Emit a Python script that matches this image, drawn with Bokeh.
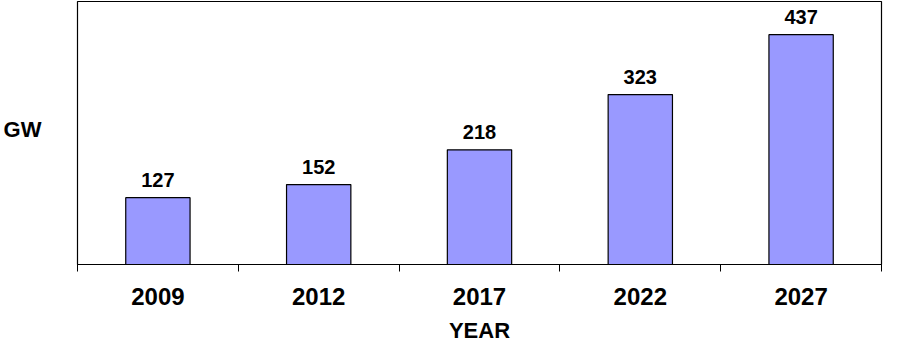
from bokeh.plotting import figure
from bokeh.models import FixedTicker, Range1d, ColumnDataSource, LinearAxis
from bokeh.core.properties import value
from bokeh.embed import file_html
from bokeh.resources import INLINE

years = ["2009", "2012", "2017", "2022", "2027"]
gw = [127, 152, 218, 323, 437]
y_label = "GW"
x_label = "YEAR"

FONT = "Liberation Sans"
n = len(years)
centers = [i + 0.5 for i in range(n)]
bounds = [float(i) for i in range(n + 1)]

src = ColumnDataSource(dict(x=centers, top=gw, txt=[str(v) for v in gw]))

p = figure(width=883, height=345, x_range=Range1d(0, n), y_range=Range1d(0, 500),
           output_backend="svg", toolbar_location=None, y_axis_location=None,
           min_border_left=76, min_border_right=2, min_border_top=1, min_border_bottom=76)
p.background_fill_color = "white"
p.border_fill_color = "white"
p.outline_line_color = "black"
p.outline_line_width = 1.2
p.xgrid.visible = False
p.ygrid.visible = False

p.vbar(x="x", top="top", width=0.4, bottom=0, source=src,
       fill_color="#9999FF", line_color="black", line_width=1.2)
p.text(x="x", y="top", text="txt", source=src, y_offset=-11,
       text_align="center", text_baseline="bottom",
       text_font=value(FONT), text_font_style="bold", text_font_size="20px",
       text_color="black")

ax = p.xaxis[0]
ax.ticker = FixedTicker(ticks=centers, minor_ticks=bounds)
ax.major_label_overrides = {c: y for c, y in zip(centers, years)}
ax.major_tick_out = 0
ax.major_tick_in = 0
ax.minor_tick_out = 7
ax.minor_tick_in = 0
ax.minor_tick_line_color = "black"
ax.axis_line_color = "black"
ax.major_label_standoff = 16
ax.major_label_text_font = FONT
ax.major_label_text_font_style = "bold"
ax.major_label_text_font_size = "24px"
ax.major_label_text_color = "black"
ax.axis_label = x_label
ax.axis_label_text_font = FONT
ax.axis_label_text_font_style = "bold"
ax.axis_label_text_font_size = "22px"
ax.axis_label_text_color = "black"
ax.axis_label_standoff = 10

# horizontal "GW" label on the left, drawn as a single-tick axis label
gw_pos = 257
yax = LinearAxis(ticker=FixedTicker(ticks=[gw_pos], minor_ticks=[]),
                 major_label_overrides={gw_pos: y_label})
yax.axis_line_color = None
yax.major_tick_line_color = None
yax.minor_tick_line_color = None
yax.major_label_standoff = 30
yax.major_label_text_font = FONT
yax.major_label_text_font_style = "bold"
yax.major_label_text_font_size = "22px"
yax.major_label_text_color = "black"
p.add_layout(yax, "left")

open("out.html", "w").write(file_html(p, INLINE))
